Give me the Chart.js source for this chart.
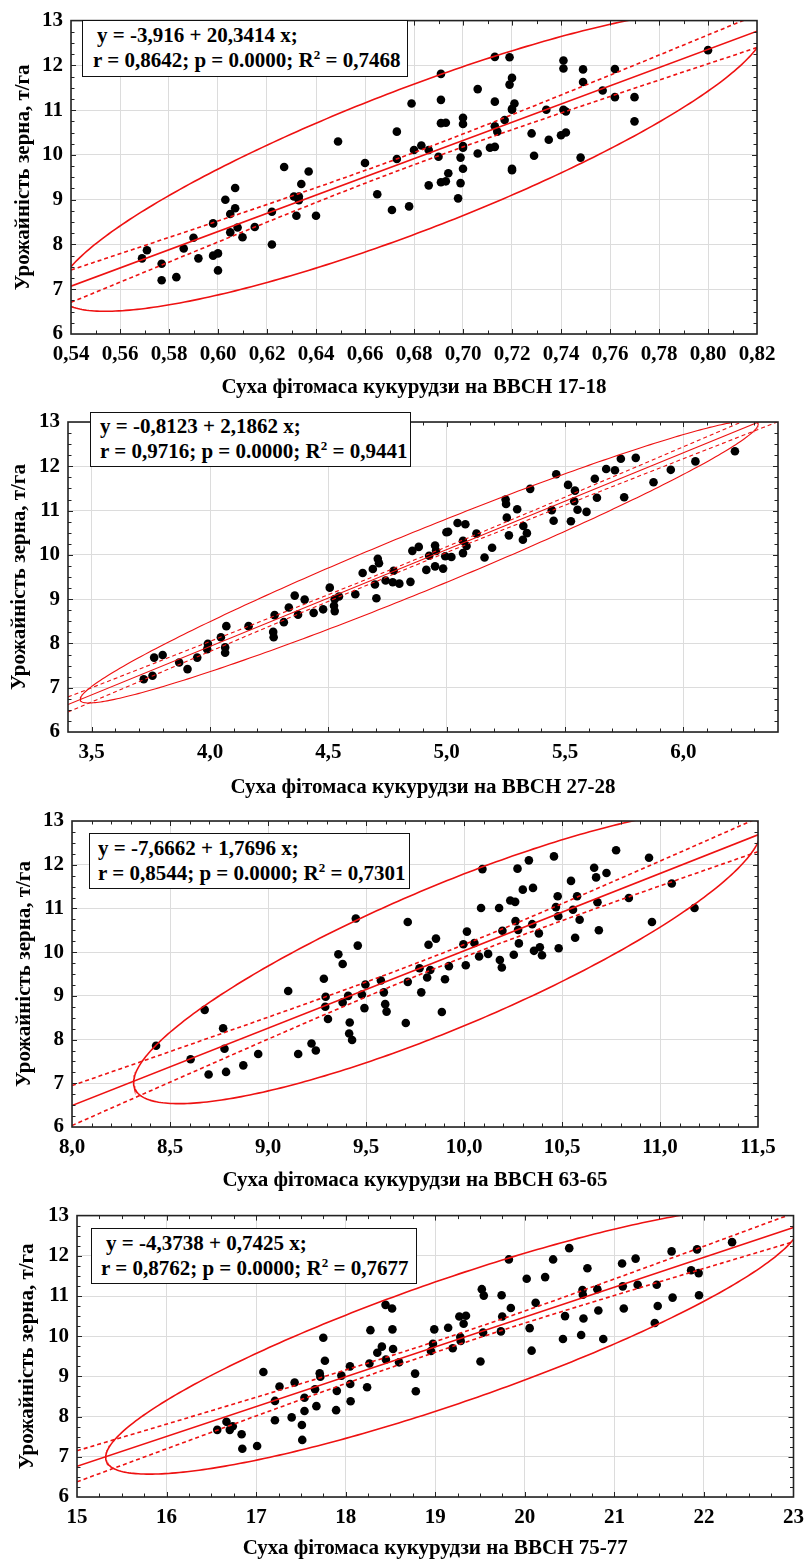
<!DOCTYPE html>
<html lang="uk">
<head>
<meta charset="UTF-8">
<title>Урожайність зерна кукурудзи</title>
<script src="https://cdn.jsdelivr.net/npm/chart.js"></script>
<style>
    body { margin: 0; background: #fff; }
    #page { position: relative; width: 812px; height: 1561px; overflow: hidden; }
    .panel { position: absolute; left: 0; width: 812px; }
    .eq {
        position: absolute;
        box-sizing: border-box;
        background: #fff;
        border: 1.5px solid #111;
        font: bold 21px "Liberation Serif", "Times New Roman", serif;
        line-height: 25px;
        color: #000;
        white-space: nowrap;
    }
    .eq sup { font-size: 13px; line-height: 0; vertical-align: 8px; }
</style>
</head>
<body>
<div id="page">
    <div class="panel" style="top:0;height:400px"><canvas id="c1"></canvas></div>
    <div class="panel" style="top:400px;height:400px"><canvas id="c2"></canvas></div>
    <div class="panel" style="top:800px;height:395px"><canvas id="c3"></canvas></div>
    <div class="panel" style="top:1195px;height:366px"><canvas id="c4"></canvas></div>

    <div class="eq" style="left:82px;top:20px;width:326px;height:57px;padding-top:2px">
        <div style="padding-left:14px">y = -3,916 + 20,3414 x;</div>
        <div style="padding-left:10px">r = 0,8642; p = 0.0000; R<sup>2</sup> = 0,7468</div>
    </div>
    <div class="eq" style="left:90px;top:412px;width:321px;height:55px;padding-top:1px">
        <div style="padding-left:9px">y = -0,8123 + 2,1862 x;</div>
        <div style="padding-left:9px">r = 0,9716; p = 0.0000; R<sup>2</sup> = 0,9441</div>
    </div>
    <div class="eq" style="left:89px;top:833px;width:321px;height:56px;padding-top:2px">
        <div style="padding-left:8px">y = -7,6662 + 1,7696 x;</div>
        <div style="padding-left:8px">r = 0,8544; p = 0.0000; R<sup>2</sup> = 0,7301</div>
    </div>
    <div class="eq" style="left:91px;top:1228px;width:326px;height:56px;padding-top:2px">
        <div style="padding-left:14px">y = -4,3738 + 0,7425 x;</div>
        <div style="padding-left:9px">r = 0,8762; p = 0.0000; R<sup>2</sup> = 0,7677</div>
    </div>
</div>
<script>
// --- data ---
const x1 = [0.569,0.571,0.577,0.577,0.583,0.586,0.590,0.592,0.598,0.598,0.600,0.600,0.603,0.605,0.607,0.607,0.605,0.608,0.610,0.615,0.622,0.622,0.627,0.631,0.632,0.633,0.633,0.634,0.637,0.640,0.649,0.660,0.665,0.671,0.673,0.673,
    0.678,0.680,0.679,0.683,0.686,0.686,0.690,0.691,0.691,0.691,0.693,0.691,0.693,0.694,0.700,0.700,0.700,0.700,0.699,0.700,0.699,0.698,0.706,0.706,
    0.711,0.713,0.713,0.713,0.713,0.714,0.717,0.719,0.719,0.720,0.721,0.720,0.720,0.720,0.720,0.728,0.729,0.735,0.734,0.741,0.741,0.740,0.742,0.742,
    0.741,0.748,0.749,0.749,0.757,0.762,0.762,0.770,0.770,0.800];
const y1 = [7.69,7.87,7.57,7.20,7.27,7.91,8.15,7.69,8.47,7.75,7.80,7.42,9.00,8.68,9.26,8.81,8.27,8.38,8.16,8.39,8.73,8.00,9.73,9.07,8.64,9.07,8.99,9.35,9.63,8.64,10.30,9.82,9.12,8.77,10.52,9.91,
    8.85,10.11,11.15,10.21,10.11,9.32,9.96,11.81,11.23,10.71,10.72,9.39,9.41,9.59,10.83,10.69,10.20,10.16,9.94,9.69,9.37,9.03,11.47,10.03,
    10.16,10.18,12.19,11.19,10.64,10.52,10.78,12.18,11.57,11.72,11.15,11.01,11.03,9.66,9.69,10.48,9.98,10.34,11.01,12.11,11.93,10.44,10.50,10.97,
    11.01,9.94,11.91,11.63,11.44,11.92,11.29,11.29,10.75,12.34];

const x2 = [3.720,3.757,3.764,3.800,3.870,3.905,3.946,3.988,3.991,4.046,4.064,4.064,4.069,4.163,4.267,4.269,4.273,4.312,4.333,4.358,
    4.372,4.400,4.438,4.478,4.506,4.524,4.527,4.527,4.545,4.614,4.645,4.688,4.697,4.703,4.709,4.714,4.742,4.772,4.776,4.800,
    4.847,4.855,4.882,4.914,4.926,4.951,4.951,4.955,4.985,4.994,4.999,5.006,5.020,5.046,5.079,5.069,5.069,5.084,5.126,5.160,
    5.192,5.249,5.251,5.254,5.263,5.298,5.324,5.339,5.322,5.353,5.463,5.444,5.452,5.513,5.542,5.539,5.553,5.525,5.591,5.626,
    5.635,5.674,5.711,5.736,5.750,5.799,5.874,5.947,6.051,6.218];
const y2 = [7.19,7.27,7.68,7.74,7.57,7.42,7.68,7.87,7.99,8.14,7.91,7.79,8.39,8.39,8.26,8.14,8.64,8.48,8.81,9.08,
    8.65,8.99,8.69,8.77,9.26,8.85,8.73,9.00,9.06,9.11,9.59,9.68,9.33,9.02,9.91,9.81,9.42,9.38,9.64,9.35,
    9.39,10.09,10.18,9.66,9.98,9.74,10.21,10.09,9.69,9.97,10.51,10.52,9.95,10.72,10.69,10.32,10.04,10.20,10.48,9.94,
    10.16,11.25,11.15,10.84,10.44,11.03,10.65,10.49,10.34,11.49,11.82,11.01,10.77,11.58,11.45,11.21,11.02,10.76,10.97,11.72,
    11.29,11.94,11.91,12.17,11.30,12.19,11.64,11.92,12.11,12.34];

const x3 = [8.429,8.605,8.677,8.697,8.771,8.778,8.786,8.874,8.950,9.103,9.154,9.222,9.244,9.285,9.294,9.292,9.306,9.359,9.381,9.381,
    9.409,9.417,9.414,9.429,9.448,9.458,9.479,9.497,9.492,9.576,9.591,9.598,9.605,9.703,9.713,9.713,9.773,9.782,9.812,9.828,
    9.819,9.857,9.887,9.903,9.923,9.997,10.009,10.015,10.053,10.077,10.087,10.094,10.123,10.179,10.183,10.193,10.196,10.236,10.261,10.254,
    10.263,10.276,10.280,10.273,10.300,10.331,10.352,10.348,10.357,10.382,10.387,10.398,10.459,10.469,10.478,10.481,10.483,10.546,10.556,10.577,
    10.567,10.590,10.664,10.674,10.681,10.688,10.727,10.776,10.841,10.944,10.959,11.060,11.176];
const y3 = [7.86,7.55,8.68,7.20,8.26,7.79,7.26,7.41,7.67,9.11,7.67,7.91,7.75,9.39,8.98,8.75,8.47,9.95,9.73,8.85,
    9.00,8.39,8.14,7.99,10.77,10.15,9.03,9.26,8.72,9.35,9.08,8.81,8.64,8.38,10.69,9.32,9.63,9.08,9.42,9.59,
    10.17,10.31,8.63,9.38,9.68,10.18,9.70,10.47,10.21,9.90,11.01,11.90,9.96,11.01,9.82,9.65,10.49,11.18,11.15,9.94,
    10.71,10.51,10.20,11.91,11.43,12.10,11.47,10.64,10.03,10.43,10.11,9.93,12.19,11.03,11.28,10.82,10.09,11.63,10.97,11.28,
    10.33,10.74,11.93,11.71,11.14,10.50,11.81,12.33,11.24,12.16,10.69,11.57,11.01];

const x4 = [16.566,16.669,16.706,16.739,16.838,16.846,17.011,17.081,17.210,17.210,17.261,17.397,17.430,17.511,17.515,17.540,17.540,17.658,17.673,17.710,
    17.717,17.750,17.768,17.901,17.893,17.952,18.048,18.051,18.055,18.239,18.265,18.276,18.353,18.404,18.445,18.449,18.518,18.522,18.529,18.596,
    18.775,18.783,18.952,18.974,18.989,19.144,19.195,19.269,19.280,19.284,19.317,19.343,19.505,19.520,19.542,19.534,19.733,19.741,19.748,19.822,
    19.844,20.021,20.054,20.076,20.121,20.227,20.316,20.449,20.426,20.496,20.644,20.648,20.655,20.629,20.699,20.810,20.821,20.876,21.086,21.094,
    21.105,21.237,21.260,21.451,21.473,21.484,21.639,21.650,21.857,21.923,21.941,21.945,22.314];
const y4 = [7.67,7.87,7.67,7.76,7.56,7.20,7.27,9.11,8.39,7.91,8.75,7.98,8.85,7.79,7.42,8.47,8.14,8.68,8.26,9.08,
    8.99,9.96,9.39,8.64,8.16,9.02,9.25,8.81,8.38,8.73,9.32,10.15,9.59,9.74,10.78,9.42,10.69,10.17,9.68,9.35,
    9.07,8.63,9.63,9.81,10.17,10.21,9.70,10.49,9.98,9.88,10.31,10.51,9.37,11.17,11.01,10.09,10.12,11.02,10.49,11.91,
    10.70,11.43,10.20,9.64,10.83,11.47,11.91,10.50,9.93,12.19,11.15,11.03,10.44,10.03,11.69,11.17,10.64,9.93,11.81,11.24,
    10.69,11.93,11.28,10.33,11.28,10.75,12.11,10.96,11.64,12.16,11.57,11.02,12.34];

// regression equations printed on the figure
const intercepts = [-3.916, -0.8123, -7.6662, -4.3738];
const slopes = [20.3414, 2.1862, 1.7696, 0.7425];

// axis ticks
const xTicks1 = [0.54, 0.56, 0.58, 0.60, 0.62, 0.64, 0.66, 0.68, 0.70, 0.72, 0.74, 0.76, 0.78, 0.80, 0.82];
const xTicks2 = [3.5, 4.0, 4.5, 5.0, 5.5, 6.0];
const xTicks3 = [8.0, 8.5, 9.0, 9.5, 10.0, 10.5, 11.0, 11.5];
const xTicks4 = [15, 16, 17, 18, 19, 20, 21, 22, 23];
const yTicks = [6, 7, 8, 9, 10, 11, 12, 13];
const xTitles = [
    'Суха фітомаса кукурудзи на ВВСН 17-18',
    'Суха фітомаса кукурудзи на ВВСН 27-28',
    'Суха фітомаса кукурудзи на ВВСН 63-65',
    'Суха фітомаса кукурудзи на ВВСН 75-77'
];
const yTitle = 'Урожайність зерна, т/га';

const RED = '#ee1111';
Chart.defaults.font.family = '"Liberation Serif", "Times New Roman", serif';
Chart.defaults.color = '#000';

// stats for ellipse and confidence band
function fitStats(xs, ys, a, b) {
    const n = xs.length;
    const mx = xs.reduce((s, v) => s + v, 0) / n;
    const my = ys.reduce((s, v) => s + v, 0) / n;
    let sxx = 0, syy = 0, sxy = 0, sse = 0;
    for (let i = 0; i < n; i++) {
        const dx = xs[i] - mx, dy = ys[i] - my;
        sxx += dx * dx; syy += dy * dy; sxy += dx * dy;
        const r = ys[i] - (a + b * xs[i]);
        sse += r * r;
    }
    return { n, mx, my, sxx, syy, sxy, s: Math.sqrt(sse / (n - 2)) };
}

// 0.95 ellipse around the point cloud, k = scale in standard deviations
function ellipsePoints(st, k) {
    const vx = st.sxx / (st.n - 1), vy = st.syy / (st.n - 1), cxy = st.sxy / (st.n - 1);
    const l11 = Math.sqrt(vx), l21 = cxy / l11, l22 = Math.sqrt(vy - l21 * l21);
    const pts = [];
    for (let i = 0; i <= 360; i++) {
        const t = 2 * Math.PI * i / 360;
        pts.push({ x: st.mx + k * l11 * Math.cos(t), y: st.my + k * (l21 * Math.cos(t) + l22 * Math.sin(t)) });
    }
    return pts;
}

// 95% confidence band of the regression line
function bandPoints(st, a, b, x0, x1, sign) {
    const pts = [];
    for (let i = 0; i <= 100; i++) {
        const x = x0 + (x1 - x0) * i / 100;
        const se = st.s * Math.sqrt(1 / st.n + (x - st.mx) * (x - st.mx) / st.sxx);
        pts.push({ x, y: a + b * x + sign * 1.986 * se });
    }
    return pts;
}

// frame + small inward ticks on all four sides
const frameTicks = {
    id: 'frameTicks',
    afterDraw(chart, args, opts) {
        const { ctx, chartArea: a, scales: { x, y } } = chart;
        const isMajor = (scale, v) => scale.ticks.some(t => Math.abs(t.value - v) < 1e-7);
        ctx.save();
        ctx.strokeStyle = '#222';
        ctx.lineWidth = 1;
        ctx.beginPath();
        const nx = Math.round((x.max - x.min) / opts.xMinor);
        for (let i = 1; i < nx; i++) {
            const v = x.min + i * opts.xMinor;
            const px = Math.round(x.getPixelForValue(v)) + 0.5;
            const len = isMajor(x, v) ? 5 : 3.5;
            ctx.moveTo(px, a.bottom); ctx.lineTo(px, a.bottom - len);
            ctx.moveTo(px, a.top); ctx.lineTo(px, a.top + len);
        }
        const ny = Math.round((y.max - y.min) / opts.yMinor);
        for (let i = 1; i < ny; i++) {
            const v = y.min + i * opts.yMinor;
            const py = Math.round(y.getPixelForValue(v)) + 0.5;
            const len = isMajor(y, v) ? 5 : 3.5;
            ctx.moveTo(a.left, py); ctx.lineTo(a.left + len, py);
            ctx.moveTo(a.right, py); ctx.lineTo(a.right - len, py);
        }
        ctx.stroke();
        ctx.lineWidth = 1.6;
        ctx.strokeRect(a.left, a.top, a.right - a.left, a.bottom - a.top);
        ctx.restore();
    }
};

function makeChart(id, xs, ys, k, p) {
    const a = intercepts[k], b = slopes[k];
    const st = fitStats(xs, ys, a, b);
    const lineStyle = { showLine: true, pointRadius: 0, borderColor: RED, borderWidth: p.lw, fill: false, tension: 0, order: 0 };
    return new Chart(document.getElementById(id), {
        type: 'scatter',
        data: {
            datasets: [
                Object.assign({ data: ellipsePoints(st, p.ek) }, lineStyle),
                Object.assign({ data: bandPoints(st, a, b, p.xMin, p.xMax, 1), borderDash: [4, 3] }, lineStyle),
                Object.assign({ data: bandPoints(st, a, b, p.xMin, p.xMax, -1), borderDash: [4, 3] }, lineStyle),
                Object.assign({ data: [{ x: p.xMin, y: a + b * p.xMin }, { x: p.xMax, y: a + b * p.xMax }] }, lineStyle),
                {
                    data: xs.map((x, i) => ({ x, y: ys[i] })),
                    pointRadius: 4.3, pointBackgroundColor: '#000', pointBorderWidth: 0, order: 2
                }
            ]
        },
        options: {
            responsive: true,
            maintainAspectRatio: false,
            animation: false,
            layout: { padding: { top: p.pt, right: p.pr, bottom: p.pb, left: 0 } },
            plugins: {
                legend: { display: false },
                tooltip: { enabled: false },
                frameTicks: { xMinor: p.xMinor, yMinor: 0.25 }
            },
            scales: {
                x: {
                    type: 'linear',
                    min: p.xMin,
                    max: p.xMax,
                    afterBuildTicks: s => { s.ticks = p.xTicks.map(v => ({ value: v })); },
                    afterFit: s => { s.height = p.xh; },
                    ticks: {
                        padding: 8, autoSkip: false, maxRotation: 0,
                        font: { size: 21, weight: 'bold' },
                        callback: v => v.toFixed(p.dec).replace('.', ',')
                    },
                    grid: { color: '#dcdcdc', drawTicks: false },
                    border: { display: false },
                    title: {
                        display: true, text: p.title,
                        font: { size: 21, weight: 'bold' },
                        padding: { top: 0, bottom: p.tb }
                    }
                },
                y: {
                    type: 'linear',
                    min: 6,
                    max: 13,
                    afterBuildTicks: s => { s.ticks = yTicks.map(v => ({ value: v })); },
                    afterFit: s => { s.width = p.yw; },
                    ticks: { padding: 8, font: { size: 21, weight: 'bold' } },
                    grid: { color: '#dcdcdc', drawTicks: false },
                    border: { display: false },
                    title: {
                        display: true, text: yTitle,
                        font: { size: 21, weight: 'bold' },
                        padding: { top: p.yt, bottom: 0 }
                    }
                }
            }
        },
        plugins: [frameTicks]
    });
}

makeChart('c1', x1, y1, 0, { xMin: 0.54, xMax: 0.82, xTicks: xTicks1, xMinor: 0.01, dec: 2, title: xTitles[0],
    pt: 15, pr: 55, pb: 0, xh: 66, yw: 71, tb: 0, yt: 11, lw: 1.6, ek: 2.55 });
makeChart('c2', x2, y2, 1, { xMin: 3.4, xMax: 6.4, xTicks: xTicks2, xMinor: 0.1, dec: 1, title: xTitles[1],
    pt: 22, pr: 34, pb: 0, xh: 68, yw: 68, tb: 0, yt: 7, lw: 1.1, ek: 2.38 });
makeChart('c3', x3, y3, 2, { xMin: 8.0, xMax: 11.5, xTicks: xTicks3, xMinor: 0.1, dec: 1, title: xTitles[2],
    pt: 21, pr: 54, pb: 2, xh: 66, yw: 72, tb: 0, yt: 12, lw: 1.6, ek: 2.55 });
makeChart('c4', x4, y4, 3, { xMin: 15, xMax: 23, xTicks: xTicks4, xMinor: 0.25, dec: 0, title: xTitles[3],
    pt: 19, pr: 11, pb: 0, xh: 64, yw: 77, tb: 0, yt: 15, lw: 1.6, ek: 2.5 });
</script>
</body>
</html>
